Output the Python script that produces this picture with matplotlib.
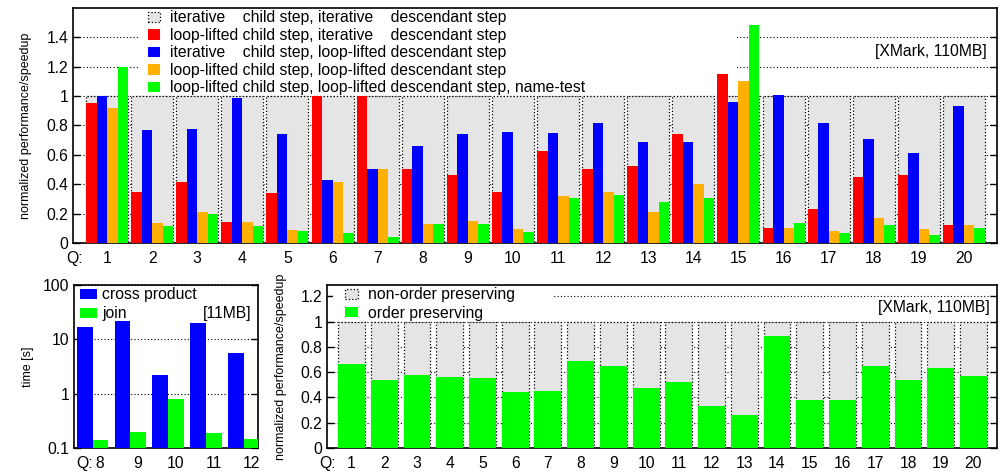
import matplotlib
matplotlib.use("Agg")
import matplotlib.pyplot as plt
from matplotlib.patches import Rectangle
from matplotlib.ticker import FuncFormatter, NullLocator
import numpy as np

plt.rcParams['font.family'] = ['Liberation Sans', 'DejaVu Sans']

# top panel: XMark 110MB, queries Q1..Q20
queries = list(range(1, 21))
baseline = [1.0] * 20
ll_child_it_desc = [0.955, 0.347, 0.414, 0.144, 0.340, 0.998, 1.002, 0.502, 0.464, 0.347,
                    0.628, 0.507, 0.527, 0.741, 1.151, 0.104, 0.230, 0.448, 0.462, 0.124]
it_child_ll_desc = [1.000, 0.766, 0.775, 0.989, 0.739, 0.428, 0.502, 0.660, 0.739, 0.759,
                    0.748, 0.820, 0.687, 0.687, 0.962, 1.007, 0.820, 0.707, 0.613, 0.935]
ll_child_ll_desc = [0.917, 0.137, 0.212, 0.142, 0.090, 0.414, 0.502, 0.131, 0.151, 0.095,
                    0.318, 0.347, 0.212, 0.403, 1.104, 0.104, 0.083, 0.171, 0.097, 0.124]
ll_nametest = [1.198, 0.117, 0.198, 0.113, 0.079, 0.070, 0.043, 0.126, 0.126, 0.077,
               0.306, 0.327, 0.279, 0.306, 1.484, 0.133, 0.070, 0.124, 0.054, 0.104]
top_labels = [
    "iterative    child step, iterative    descendant step",
    "loop-lifted child step, iterative    descendant step",
    "iterative    child step, loop-lifted descendant step",
    "loop-lifted child step, loop-lifted descendant step",
    "loop-lifted child step, loop-lifted descendant step, name-test",
]

# bottom left: 11MB, time in seconds
join_queries = [8, 9, 10, 11, 12]
cross_product = [17.1, 22.0, 2.17, 20.0, 5.5]
join_time = [0.142, 0.20, 0.81, 0.187, 0.148]

# bottom right: order preserving vs non-order preserving
order_preserving = [0.664, 0.537, 0.577, 0.566, 0.558, 0.442, 0.450, 0.690, 0.648, 0.474,
                    0.524, 0.331, 0.265, 0.886, 0.378, 0.384, 0.648, 0.537, 0.630, 0.571]

RED, BLUE, ORANGE, GREEN, GRAY = '#ff0000', '#0000ff', '#ffb000', '#00ff00', '#e5e5e5'
FS = 11.3


def style_axes(ax):
    for s in ax.spines.values():
        s.set_linewidth(1.2)
    ax.tick_params(axis='y', direction='in', length=5, width=1, right=True, labelsize=FS)
    ax.tick_params(axis='x', length=0, labelsize=FS, pad=6)
    ax.yaxis.grid(True, linestyle=(0, (1, 2)), color='black', linewidth=0.8)
    ax.set_axisbelow(True)


fig = plt.figure(figsize=(10.02, 4.72), dpi=100)

# ---- top
ax = fig.add_axes([0.0729, 0.4852, 0.922, 0.4979])
x = np.array(queries)
w = 0.233
b0 = ax.bar(x, baseline, 0.93, color=GRAY, edgecolor='black', linestyle=':', linewidth=0.9,
            zorder=2, label=top_labels[0])
b1 = ax.bar(x - 1.5 * w, ll_child_it_desc, w, color=RED, zorder=3, label=top_labels[1])
b2 = ax.bar(x - 0.5 * w, it_child_ll_desc, w, color=BLUE, zorder=3, label=top_labels[2])
b3 = ax.bar(x + 0.5 * w, ll_child_ll_desc, w, color=ORANGE, zorder=3, label=top_labels[3])
b4 = ax.bar(x + 1.5 * w, ll_nametest, w, color=GREEN, zorder=3, label=top_labels[4])
ax.set_xlim(0.246, 20.73)
ax.set_ylim(0, 1.6)
ax.set_yticks(np.arange(0, 1.41, 0.2))
ax.yaxis.set_major_formatter(FuncFormatter(lambda v, _: f"{v:g}"))
ax.set_xticks(queries)
ax.set_xticklabels([str(q) for q in queries])
style_axes(ax)
ax.set_ylabel("normalized performance/speedup", fontsize=9)
ax.yaxis.set_label_coords(-0.044, 0.5)
ax.add_patch(Rectangle((0.0725, 0.634), 0.646, 0.366, transform=ax.transAxes,
                       facecolor='white', edgecolor='none', zorder=1))
ax.legend(handles=[b0, b1, b2, b3, b4], loc='upper left', bbox_to_anchor=(0.081, 0.99),
          frameon=False, borderpad=0, borderaxespad=0, handlelength=0.8, handleheight=0.65,
          handletextpad=0.6, labelspacing=0.16, fontsize=FS)
ax.text(0.989, 0.813, "[XMark, 110MB]", transform=ax.transAxes, ha='right', va='center',
        fontsize=FS)
ax.text(0.010, -0.064, "Q:", transform=ax.transAxes, ha='right', va='center', fontsize=FS)

# ---- bottom left
ax2 = fig.add_axes([0.0739, 0.0508, 0.1836, 0.3453])
xj = np.array(join_queries)
c1 = ax2.bar(xj - 0.21, cross_product, 0.42, color=BLUE, zorder=3, label="cross product")
c2 = ax2.bar(xj + 0.21, join_time, 0.42, color=GREEN, zorder=3, label="join")
ax2.set_yscale('log')
ax2.set_ylim(0.1, 100)
ax2.set_xlim(7.51, 12.37)
ax2.set_yticks([0.1, 1, 10, 100])
ax2.set_yticklabels(["0.1", "1", "10", "100"])
ax2.yaxis.set_minor_locator(NullLocator())
ax2.set_xticks(xj + 0.2)
ax2.set_xticklabels([str(q) for q in join_queries])
style_axes(ax2)
ax2.set_ylabel("time [s]", fontsize=9)
ax2.yaxis.set_label_coords(-0.217, 0.5)
ax2.legend(handles=[c1, c2], loc='upper left', bbox_to_anchor=(0.033, 0.985), frameon=False,
           borderpad=0, borderaxespad=0, handlelength=1.05, handleheight=0.65,
           handletextpad=0.35, labelspacing=0.25, fontsize=FS)
ax2.text(0.967, 0.828, "[11MB]", transform=ax2.transAxes, ha='right', va='center', fontsize=FS)
ax2.text(0.10, -0.092, "Q:", transform=ax2.transAxes, ha='right', va='center', fontsize=FS)

# ---- bottom right
ax3 = fig.add_axes([0.3263, 0.0508, 0.6687, 0.3453])
d0 = ax3.bar(x, baseline, 0.82, color=GRAY, edgecolor='black', linestyle=':', linewidth=0.9,
             zorder=2, label="non-order preserving")
d1 = ax3.bar(x, order_preserving, 0.82, color=GREEN, zorder=3, label="order preserving")
ax3.set_xlim(0.25, 20.72)
ax3.set_ylim(0, 1.29)
ax3.set_yticks(np.arange(0, 1.21, 0.2))
ax3.yaxis.set_major_formatter(FuncFormatter(lambda v, _: f"{v:g}"))
ax3.set_xticks(queries)
ax3.set_xticklabels([str(q) for q in queries])
style_axes(ax3)
ax3.set_ylabel("normalized performance/speedup", fontsize=9)
ax3.yaxis.set_label_coords(-0.0597, 0.5)
ax3.add_patch(Rectangle((0.009, 0.814), 0.328, 0.186, transform=ax3.transAxes,
                        facecolor='white', edgecolor='none', zorder=1))
ax3.legend(handles=[d0, d1], loc='upper left', bbox_to_anchor=(0.027, 0.985), frameon=False,
           borderpad=0, borderaxespad=0, handlelength=0.85, handleheight=0.65,
           handletextpad=0.6, labelspacing=0.2, fontsize=FS)
ax3.text(0.9896, 0.865, "[XMark, 110MB]", transform=ax3.transAxes, ha='right', va='center',
         fontsize=FS)
ax3.text(0.013, -0.092, "Q:", transform=ax3.transAxes, ha='right', va='center', fontsize=FS)

fig.savefig("out.png", dpi=100)
